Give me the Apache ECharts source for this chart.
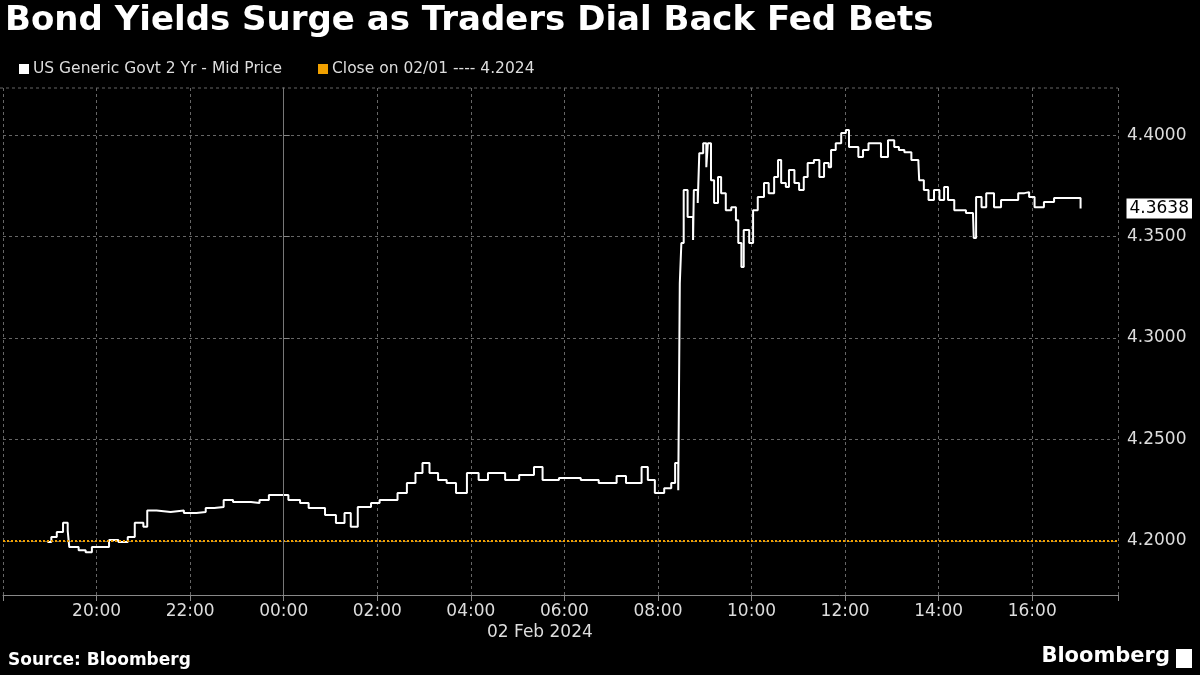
<!DOCTYPE html>
<html>
<head>
<meta charset="utf-8">
<script src="https://cdn.jsdelivr.net/npm/echarts@6/dist/echarts.min.js"></script>
<style>
html,body{margin:0;padding:0;background:#000;}
#main{width:1200px;height:675px;}
</style>
</head>
<body>
<div id="main"></div>
<script>
// minutes from 00:00 on 02 Feb 2024 (negative = 01 Feb evening)
var minutes = [-303,-298,-291,-283,-277,-275,-263,-254,-246,-235,-224,-212,-200,-191,-180,-175,-163,-145,-128,-112,
  -100,-89,-77,-65,-42,-31,-19,-3,6,21,32,44,53,67,78,86,95,112,123,135,146,158,169,178,187,198,209,221,235,250,
  262,284,302,321,332,353,381,404,427,439,459,467,476,488,497,502,506,
  508,510,513,518,525,526,531,533,538,542,544,548,552,557,561,567,574,580,583,587,590,597,602,608,616,622,629,634,
  638,644,648,655,661,667,672,680,687,693,699,702,708,715,721,725,732,737,743,750,757,766,775,783,789,796,805,814,
  815,821,827,834,841,847,852,860,869,875,884,885,888,895,901,911,920,933,942,950,956,963,975,988,1001,1014,1022];
var yields = [4.1995,4.202,4.2045,4.209,4.205,4.197,4.1955,4.1945,4.197,4.197,4.2005,4.1995,4.202,4.209,4.207,4.215,
  4.2143,4.215,4.2138,4.2143,4.2163,4.2168,4.2202,4.2192,4.2187,4.2202,4.2227,4.2227,4.2202,4.2187,4.2163,4.2163,
  4.2128,4.2089,4.2138,4.207,4.2168,4.2187,4.2202,4.2202,4.2236,4.2286,4.2335,4.2384,4.2335,4.23,4.2286,4.2236,
  4.2335,4.23,4.2335,4.23,4.2325,4.2365,4.23,4.231,4.23,4.2286,4.232,4.2286,4.2365,4.23,4.2236,4.226,4.2286,4.2384,4.225,
  4.327,4.3468,4.3729,4.3596,4.3483,4.3729,4.3665,4.3911,4.396,4.3842,4.396,4.3778,4.3665,4.3793,4.3714,4.363,4.3645,
  4.3581,4.3468,4.335,4.3532,4.3468,4.363,4.3695,4.3764,4.3714,4.3793,4.3877,4.3764,4.3744,4.3828,4.3764,4.3729,
  4.3793,4.3862,4.3877,4.3793,4.3862,4.3842,4.3926,4.396,4.401,4.4025,4.3941,4.3941,4.3892,4.3926,4.396,4.396,4.3892,
  4.3975,4.3941,4.3926,4.3916,4.3877,4.3867,4.3778,4.3729,4.368,4.3729,4.368,4.3744,4.368,4.363,4.363,4.3616,4.362,
  4.3493,4.3695,4.3645,4.3714,4.3645,4.368,4.368,4.3714,4.3719,4.3695,4.3645,4.367,4.369,4.369,4.369,4.3638];
var yTicks = [4.20, 4.25, 4.30, 4.35, 4.40];
var prevClose = 4.2024;
var lastValue = 4.3638;

var seriesData = minutes.map(function (m, i) { return [m, yields[i]]; });

function fmtTime(m) {
    var t = ((m % 1440) + 1440) % 1440;
    var h = Math.floor(t / 60), mm = t % 60;
    return (h < 10 ? '0' : '') + h + ':' + (mm < 10 ? '0' : '') + mm;
}

var chart = echarts.init(document.getElementById('main'));
var font = 'DejaVu Sans, sans-serif';
chart.setOption({
    backgroundColor: '#000',
    animation: false,
    grid: { left: 0, right: 82, top: 88, bottom: 80 },
    xAxis: {
        type: 'value', min: -360, max: 1070, interval: 120,
        axisLine: { lineStyle: { color: '#888' } },
        axisTick: { show: true, length: 6, lineStyle: { color: '#888' } },
        axisLabel: {
            color: '#ddd', fontSize: 17, fontFamily: font, margin: 8,
            formatter: function (v) { return (v <= -360 || v > 1000) ? '' : fmtTime(v); }
        },
        splitLine: { show: true, lineStyle: { color: '#666', type: [3, 3] } }
    },
    yAxis: {
        type: 'value', position: 'right', min: 4.1734, max: 4.4232,
        axisLine: { show: true, lineStyle: { color: '#888' } },
        axisTick: { show: true, length: 6, customValues: yTicks, lineStyle: { color: '#888' } },
        axisLabel: {
            color: '#ddd', fontSize: 17, fontFamily: font, margin: 9,
            customValues: yTicks,
            formatter: function (v) { return v.toFixed(4); }
        },
        splitLine: { show: true, lineStyle: { color: '#666', type: [3, 3] } }
    },
    graphic: [
        { type: 'text', left: 5, top: 4, style: { text: 'Bond Yields Surge as Traders Dial Back Fed Bets', fill: '#fff', font: 'bold 34px ' + font } },
        { type: 'rect', left: 19, top: 64, shape: { width: 10, height: 10 }, style: { fill: '#fff' } },
        { type: 'text', left: 33, top: 61, style: { text: 'US Generic Govt 2 Yr - Mid Price', fill: '#ddd', font: '15.5px ' + font } },
        { type: 'rect', left: 318, top: 64, shape: { width: 10, height: 10 }, style: { fill: '#f0a000' } },
        { type: 'text', left: 332, top: 61, style: { text: 'Close on 02/01 ---- 4.2024', fill: '#ddd', font: '15.5px ' + font } },
        { type: 'line', shape: { x1: 0, y1: 88, x2: 1118, y2: 88 }, style: { stroke: '#666', lineDash: [3, 3] } },
        { type: 'text', left: 487, top: 624, style: { text: '02 Feb 2024', fill: '#ddd', font: '17px ' + font } },
        { type: 'text', left: 8, top: 652, style: { text: 'Source: Bloomberg', fill: '#fff', font: 'bold 17px ' + font } },
        { type: 'text', right: 30, top: 646, style: { text: 'Bloomberg', fill: '#fff', font: 'bold 21px ' + font } },
        { type: 'rect', right: 8, top: 649, shape: { width: 16, height: 19 }, style: { fill: '#fff' } }
    ],
    series: [{
        type: 'line', step: 'end', data: seriesData, showSymbol: false,
        lineStyle: { color: '#fff', width: 2 },
        markLine: {
            silent: true, symbol: 'none',
            data: [
                { yAxis: prevClose, lineStyle: { color: '#f0a000', type: [2, 2], width: 2 }, label: { show: false } },
                { xAxis: 0, lineStyle: { color: '#777', type: 'solid', width: 1 }, label: { show: false } }
            ]
        },
        markPoint: {
            silent: true, symbol: 'rect', symbolSize: 1,
            data: [{ coord: [1070, lastValue], itemStyle: { color: 'rgba(0,0,0,0)' } }],
            label: {
                show: true, position: 'right', distance: 8, formatter: lastValue.toFixed(4),
                backgroundColor: '#fff', color: '#000', fontSize: 17, fontFamily: font,
                padding: [2, 3, 1, 3]
            }
        }
    }]
});
</script>
</body>
</html>
